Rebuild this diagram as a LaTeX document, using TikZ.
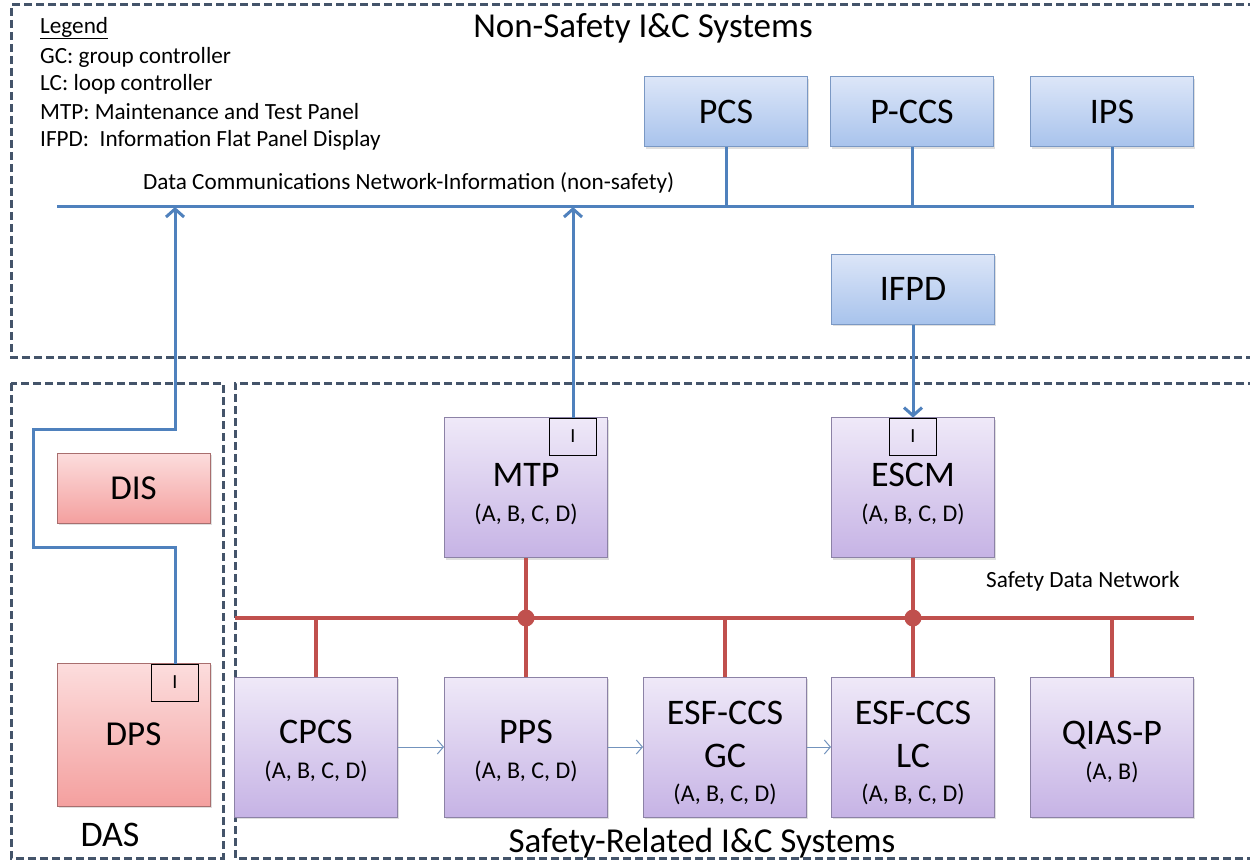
\documentclass[tikz,border=0pt]{standalone}
\usepackage{fontspec}
\setmainfont{Carlito}
\usetikzlibrary{arrows.meta,shadows}
\definecolor{dashcol}{HTML}{44546A}
\definecolor{netblue}{HTML}{4F81BD}
\definecolor{netred}{HTML}{C0504D}
\definecolor{btop}{HTML}{DCE6F8}
\definecolor{bbot}{HTML}{A8C3EC}
\definecolor{bbord}{HTML}{7A98C4}
\definecolor{ptop}{HTML}{EFE9F8}
\definecolor{pbot}{HTML}{C6B3E5}
\definecolor{pbord}{HTML}{8C82A6}
\definecolor{rtop}{HTML}{FCDDDD}
\definecolor{rbot}{HTML}{F4A09F}
\definecolor{rbord}{HTML}{A86E6E}
\definecolor{thinarrow}{HTML}{7393BD}
\newcommand\smalltxt[1]{{\fontsize{24}{26}\selectfont #1}}
\tikzset{
  shad/.style={drop shadow={opacity=0.25,shadow xshift=1.5pt,shadow yshift=-2pt}},
  bluebox/.style={shad,draw=bbord,line width=1pt,top color=btop,bottom color=bbot,
    minimum width=163pt,minimum height=70pt,inner sep=0pt,font=\fontsize{36}{40}\selectfont},
  pbox/.style={shad,draw=pbord,line width=1pt,top color=ptop,bottom color=pbot,
    minimum width=163pt,minimum height=140pt,inner sep=0pt},
  ptext/.style={inner sep=0pt,align=center,font=\fontsize{36}{43}\selectfont},
  rbox/.style={shad,draw=rbord,line width=1pt,top color=rtop,bottom color=rbot,
    minimum width=153pt,inner sep=0pt,font=\fontsize{35}{38}\selectfont},
  ibox/.style={draw=black,line width=0.8pt,minimum width=47pt,minimum height=37pt,
    inner sep=0pt,font=\fontsize{20}{22}\selectfont},
  region/.style={draw=dashcol,line width=3pt,dash pattern=on 8pt off 4pt},
  bluenet/.style={draw=netblue,line width=3pt},
  bluearrow/.style={bluenet,-{Straight Barb[length=8pt,width=18pt]}},
  rednet/.style={draw=netred,line width=4pt},
  thinarr/.style={draw=thinarrow,line width=1pt,-{Straight Barb[length=6pt,width=14pt]}},
  lbl/.style={inner sep=0pt,font=\fontsize{23.2}{26}\selectfont},
  big/.style={inner sep=0pt,font=\fontsize{35}{38}\selectfont},
  dot/.style={circle,fill=netred,minimum size=17pt,inner sep=0pt}
}
\begin{document}
\begin{tikzpicture}[x=1pt,y=-1pt]
\useasboundingbox (0,0) rectangle (1250,861);
\fill[white] (0,0) rectangle (1250,861);

% regions
\draw[region] (1256,5) -- (11,5) -- (11,357) -- (1256,357);
\draw[region] (11,383) rectangle (223,858);
\draw[region] (1256,383) -- (235,383) -- (235,858) -- (1256,858);

% legend and titles
\node[lbl,anchor=west] (leg0) at (40,28) {\underline{Legend}};
\node[lbl,anchor=west] (leg1) at (40,57) {GC: group controller};
\node[lbl,anchor=west] (leg2) at (40,84) {LC: loop controller};
\node[lbl,anchor=west] (leg3) at (40,112) {MTP: Maintenance and Test Panel};
\node[lbl,anchor=west] (leg4) at (40,140) {IFPD:\ \ Information Flat Panel Display};
\node[big] (title1) at (643,28) {Non-Safety I\&C Systems};
\node[lbl,anchor=west] (netlbl) at (143,183) {Data Communications Network-Information (non-safety)};
\node[lbl,anchor=west] (sdnlbl) at (986,581) {Safety Data Network};
\node[big] (title2) at (702,843) {Safety-Related I\&C Systems};
\node[inner sep=0pt,font=\fontsize{36}{38}\selectfont] (das) at (110,835) {DAS};

% network lines
\coordinate (netL) at (57,207);
\coordinate (netR) at (1194,207);
\coordinate (sdnL) at (235,618);
\coordinate (sdnR) at (1194,618);

% non-safety boxes
\node[bluebox] (pcs) at (726,112) {PCS};
\node[bluebox] (pccs) at (912,112) {P-CCS};
\node[bluebox] (ips) at (1112,112) {IPS};
\node[bluebox] (ifpd) at (913,289) {IFPD};

% DAS boxes
\node[rbox,minimum height=70pt] (dis) at (133.5,488) {DIS};
\node[rbox,minimum height=143pt] (dps) at (133.5,734.5) {DPS};
\node[ibox] (dpsi) at (175,682.5) {I};

% safety boxes
\node[pbox] (mtp) at (526,487.5) {};
\node[ptext] (mtpT) at (526,494) {MTP\\[-8pt]\smalltxt{(A, B, C, D)}};
\node[ibox] (mtpi) at (573,436.5) {I};
\node[pbox] (escm) at (913,487.5) {};
\node[ptext] (escmT) at (913,494) {ESCM\\[-8pt]\smalltxt{(A, B, C, D)}};
\node[ibox] (escmi) at (913,436.5) {I};
\node[pbox] (cpcs) at (316,747) {};
\node[ptext] (cpcsT) at (316,751) {CPCS\\[-8pt]\smalltxt{(A, B, C, D)}};
\node[pbox] (pps) at (526,747) {};
\node[ptext] (ppsT) at (526,751) {PPS\\[-8pt]\smalltxt{(A, B, C, D)}};
\node[pbox] (gc) at (725,747) {};
\node[ptext] (gcT) at (725,753) {ESF-CCS\\GC\\[-9pt]\smalltxt{(A, B, C, D)}};
\node[pbox] (lc) at (913,747) {};
\node[ptext] (lcT) at (913,753) {ESF-CCS\\LC\\[-9pt]\smalltxt{(A, B, C, D)}};
\node[pbox] (qias) at (1112,747) {};
\node[ptext] (qiasT) at (1112,752) {QIAS-P\\[-8pt]\smalltxt{(A, B)}};

% blue network
\draw[bluenet] (netL) -- (netR);
\draw[bluenet] (pcs.south) -- (pcs.south |- netL);
\draw[bluenet] (pccs.south) -- (pccs.south |- netL);
\draw[bluenet] (ips.south) -- (ips.south |- netL);
\draw[bluearrow] (mtpi.north) -- (mtpi.north |- netL);
\draw[bluearrow] (ifpd.south) -- (escmi.north);
\coordinate (d1) at (175,547);
\coordinate (d2) at (33,547);
\coordinate (d3) at (33,429);
\coordinate (d4) at (175,429);
\draw[bluearrow] (dpsi.north) -- (d1) -- (d2) -- (d3) -- (d4) -- (d4 |- netL);

% safety network
\draw[rednet] (sdnL) -- (sdnR);
\draw[rednet] (cpcs.north) -- (cpcs.north |- sdnL);
\draw[rednet] (mtp.south) -- (pps.north);
\draw[rednet] (gc.north) -- (gc.north |- sdnL);
\draw[rednet] (escm.south) -- (lc.north);
\draw[rednet] (qias.north) -- (qias.north |- sdnL);
\node[dot] (dot1) at (mtp.south |- sdnL) {};
\node[dot] (dot2) at (escm.south |- sdnL) {};

% thin arrows
\draw[thinarr] (cpcs.east) -- (pps.west);
\draw[thinarr] (pps.east) -- (gc.west);
\draw[thinarr] (gc.east) -- (lc.west);
\end{tikzpicture}
\end{document}
